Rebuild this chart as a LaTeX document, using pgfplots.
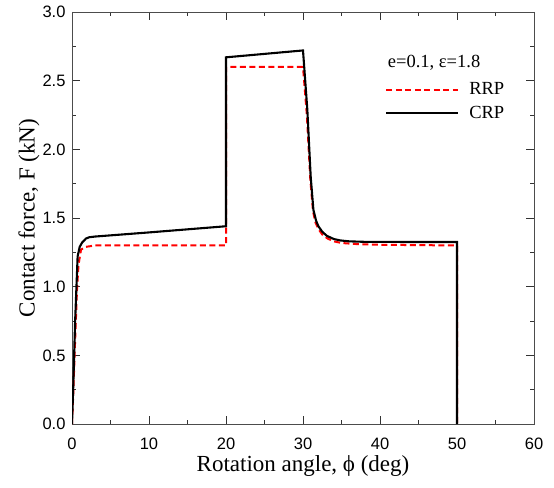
\documentclass[border=0pt]{standalone}
\usepackage{fontspec}
\setmainfont{Liberation Serif}
\newfontfamily\arial{Liberation Sans}
\usepackage{pgfplots}
\pgfplotsset{compat=1.18}

\begin{document}
\begin{tikzpicture}
  \begin{axis}[
    scale only axis,
    width=462pt, height=412pt,
    xmin=0, xmax=60, ymin=0, ymax=3,
    xtick={0,10,...,60},
    ytick={0,0.5,...,3},
    minor xtick={5,15,...,55},
    minor ytick={0.25,0.75,...,2.75},
    tick align=inside,
    major tick length=8pt, minor tick length=4pt,
    tick style={black!80, line width=0.8pt},
    axis line style={line width=0.9pt, black!70},
    yticklabel style={/pgf/number format/fixed, /pgf/number format/fixed zerofill,
      /pgf/number format/precision=1, xshift=-3pt},
    /pgf/number format/assume math mode=true,
    tick label style={font=\arial\fontsize{16.5}{16.5}\selectfont},
    xticklabel style={yshift=-10pt},
    xlabel={Rotation angle, ϕ (deg)},
    ylabel={Contact force, F (kN)},
    every axis x label/.style={at={(axis description cs:0.5,-0.102)}, anchor=center},
    every axis y label/.style={at={(axis description cs:-0.093,0.5)}, rotate=90, anchor=center},
    label style={font=\fontsize{23}{23}\selectfont},
    legend style={draw=none, fill=none, at={(axis cs:40.65,2.50)}, anchor=north west,
      inner sep=0pt, font=\fontsize{18.5}{18.5}\selectfont, row sep=6pt,
      /tikz/every odd column/.append style={column sep=8pt}},
    legend cell align=left,
    legend image code/.code={\draw[#1] (0pt,0pt) -- (72pt,0pt);},
  ]
    \addplot[red, line width=2pt, dash pattern=on 6pt off 3.5pt] coordinates {
      (0,0) (0.15,0.2) (0.4,0.6) (0.65,0.98) (0.85,1.16) (1.17,1.27) (1.8,1.29)
      (3,1.30) (20,1.30) (20,2.60) (30,2.60) (30.5,2.25) (30.95,1.78)
      (31.3,1.55) (31.6,1.47) (32.0,1.42) (32.5,1.38) (33.2,1.35) (34.0,1.33)
      (35.0,1.318) (37,1.31) (40,1.305) (50,1.30) (50,0)
    };
    \addlegendentry{RRP}
    \addplot[black, line width=2.1pt] coordinates {
      (0,0) (0.15,0.25) (0.4,0.74) (0.73,1.22) (1.0,1.29) (1.3,1.32) (1.8,1.35)
      (2.25,1.36) (3,1.365) (10,1.395) (20,1.44) (20,2.67) (30,2.72) (30.56,2.29)
      (31.0,1.80) (31.35,1.56) (31.7,1.48) (32.0,1.44) (32.5,1.40) (33.1,1.37)
      (34.0,1.347) (34.8,1.337) (36,1.330) (38.3,1.326) (50,1.325) (50,0)
    };
    \addlegendentry{CRP}
    \node[anchor=west, inner sep=0pt, font=\fontsize{18.5}{18.5}\selectfont] at (axis cs:41.0,2.628) {e=0.1, ε=1.8};
    \coordinate (bl) at (rel axis cs:0,0);
    \coordinate (tr) at (rel axis cs:1,1);
  \end{axis}
  \path (bl) ++(-72pt,-63pt);
  \path (tr) ++(20pt,12pt);
\end{tikzpicture}
\end{document}
